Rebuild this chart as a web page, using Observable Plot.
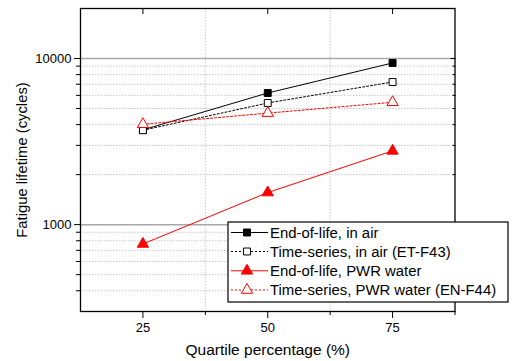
<!DOCTYPE html>
<html>
<head>
<meta charset="utf-8">
<script src="https://cdn.jsdelivr.net/npm/d3@7"></script>
<script src="https://cdn.jsdelivr.net/npm/@observablehq/plot@0.6"></script>
<style>
  html, body { margin: 0; padding: 0; background: #fff; }
  #wrap { position: relative; width: 512px; height: 361px; font-family: "Liberation Sans", Arial, sans-serif; }
  #legend { position: absolute; }
</style>
</head>
<body>
<div id="wrap"></div>
<script>
// ---- data ----
const quartiles = [25, 50, 75];
const eolAir = [3720, 6200, 9400];
const tsAir = [3700, 5400, 7220];
const eolPWR = [765, 1560, 2780];
const tsPWR = [4020, 4690, 5450];
const seriesNames = [
  "End-of-life, in air",
  "Time-series, in air (ET-F43)",
  "End-of-life, PWR water",
  "Time-series, PWR water (EN-F44)"
];
const xMajor = [25, 50, 75];
const xMinor = [37.5, 62.5, 87.5];
const yMajor = [1000, 10000];
const yMinor = [400, 500, 600, 700, 800, 900, 2000, 3000, 4000, 5000, 6000, 7000, 8000, 9000];
const xLabel = "Quartile percentage (%)";
const yLabel = "Fatigue lifetime (cycles)";

// ---- styles per series ----
const styles = [
  {color: "black", dash: null, symbol: "square", filled: true},
  {color: "black", dash: "2,2", symbol: "square", filled: false},
  {color: "#ff0000", dash: null, symbol: "triangle", filled: true},
  {color: "#ff0000", dash: "2,2", symbol: "triangle", filled: false}
];
const allValues = [eolAir, tsAir, eolPWR, tsPWR];
const table = [];
allValues.forEach((vals, s) => vals.forEach((v, i) => table.push({series: s, x: quartiles[i], y: v})));

const marks = [
  Plot.ruleY(yMinor, {stroke: "#c8c8c8", strokeDasharray: "1.5,1.5"}),
  Plot.ruleX(xMinor.slice(0, 2), {stroke: "#c8c8c8", strokeDasharray: "1.5,1.5"}),
  Plot.ruleY(yMajor, {stroke: "#a8a8a8", strokeWidth: 1.5}),
  // bottom axis
  Plot.axisX(xMajor, {anchor: "bottom", label: null, tickSize: 7, tickPadding: 4, fontSize: 13, tickFormat: d => String(d)}),
  Plot.axisX(xMinor, {anchor: "bottom", label: null, tickSize: 4, tickFormat: () => ""}),
  // top inward ticks
  Plot.axisX(xMajor, {anchor: "top", label: null, tickSize: -5, tickFormat: () => ""}),
  // left axis
  Plot.axisY(yMajor, {anchor: "left", label: null, tickSize: 6, tickPadding: 3, fontSize: 13, tickFormat: d => String(d)}),
  Plot.axisY(yMinor, {anchor: "left", label: null, tickSize: 4, tickFormat: () => ""}),
  // right inward ticks
  Plot.axisY(yMajor, {anchor: "right", label: null, tickSize: -5, tickFormat: () => ""}),
  Plot.axisY(yMinor, {anchor: "right", label: null, tickSize: -3, tickFormat: () => ""}),
  Plot.frame({stroke: "black", strokeWidth: 1.3}),
];
styles.forEach((st, s) => {
  const d = table.filter(r => r.series === s);
  marks.push(Plot.line(d, {x: "x", y: "y", stroke: st.color, strokeWidth: 1, strokeDasharray: st.dash}));
});
styles.forEach((st, s) => {
  const d = table.filter(r => r.series === s);
  marks.push(Plot.dot(d, {x: "x", y: "y", symbol: st.symbol, r: st.symbol === "square" ? 3.9 : 4.2,
    fill: st.filled ? st.color : "white", stroke: st.color, strokeWidth: 1}));
});
marks.push(Plot.text([yLabel], {frameAnchor: "left", dx: -58, rotate: -90, textAnchor: "middle", lineAnchor: "middle", fontSize: 14.8, fill: "black"}));
marks.push(Plot.text([xLabel], {frameAnchor: "bottom", dy: 39, textAnchor: "middle", lineAnchor: "middle", fontSize: 15.5, fill: "black"}));

const chart = Plot.plot({
  width: 512,
  height: 361,
  marginLeft: 80,
  marginRight: 57.5,
  marginTop: 8,
  marginBottom: 50,
  style: {fontFamily: "'Liberation Sans', Arial, sans-serif", color: "black", background: "white"},
  x: {type: "linear", domain: [12.5, 87.5], axis: null, label: null},
  y: {type: "log", domain: [300, 20000], axis: null, label: null},
  marks
});
const wrap = document.getElementById("wrap");
wrap.appendChild(chart);

// ---- legend ----
const L = {left: 228, top: 222, w: 280, h: 80, rows: [10.5, 29.5, 48.8, 68]};
const svg = d3.select(wrap).append("svg")
  .attr("id", "legend")
  .attr("width", L.w + 2).attr("height", L.h + 2)
  .style("left", (L.left - 1) + "px").style("top", (L.top - 1) + "px");
svg.append("rect").attr("x", 1).attr("y", 1).attr("width", L.w).attr("height", L.h)
  .attr("fill", "white").attr("stroke", "black").attr("stroke-width", 1.2);
styles.forEach((st, i) => {
  const y = 1 + L.rows[i];
  svg.append("line").attr("x1", 4).attr("x2", 41).attr("y1", y).attr("y2", y)
    .attr("stroke", st.color).attr("stroke-width", 1).attr("stroke-dasharray", st.dash);
  const sym = st.symbol === "square" ? d3.symbolSquare : d3.symbolTriangle;
  const r = st.symbol === "square" ? 3.9 : 4.2;
  svg.append("path").attr("d", d3.symbol(sym, Math.PI * r * r)())
    .attr("transform", `translate(20,${y})`)
    .attr("fill", st.filled ? st.color : "white").attr("stroke", st.color);
  svg.append("text").attr("x", 43).attr("y", y).attr("dy", "0.35em")
    .attr("font-size", 14.9).attr("font-family", "'Liberation Sans', Arial, sans-serif")
    .text(seriesNames[i]);
});
</script>
</body>
</html>
